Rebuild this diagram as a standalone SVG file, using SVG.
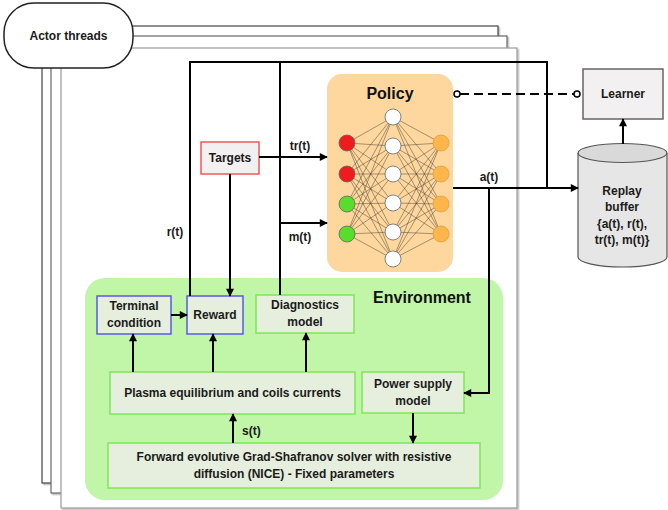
<svg xmlns="http://www.w3.org/2000/svg" width="668" height="510" viewBox="0 0 668 510">
<defs>
<marker id="ah" viewBox="0 0 10 10" refX="9" refY="5" markerWidth="9" markerHeight="8" markerUnits="userSpaceOnUse" orient="auto">
<path d="M0,0 L10,5 L0,10 z" fill="#000"/>
</marker>
<filter id="sh" x="-5%" y="-5%" width="110%" height="110%">
<feDropShadow dx="1.5" dy="1.5" stdDeviation="0.6" flood-color="#000" flood-opacity="0.25"/>
</filter>
</defs>
<style>
text{font-family:"Liberation Sans",Arial,sans-serif;font-weight:bold;font-size:12px;fill:#1a1a1a;text-anchor:middle}
.big{font-size:16px;fill:#111}
.lbl{text-anchor:start}
.env{fill:#e6eedd;stroke:#7be852;stroke-width:1.5}
.blue{fill:#e6eedd;stroke:#5a5ae6;stroke-width:1.5}
.conn{fill:none;stroke:#000;stroke-width:2}
.arr{fill:none;stroke:#000;stroke-width:2;marker-end:url(#ah)}
.nn{fill:none;stroke:#4a3c30;stroke-width:0.6;stroke-opacity:0.8}
</style>

<!-- stacked actor frames -->
<g id="frames">
<rect x="42" y="26" width="456" height="457" fill="#fff" stroke="#444" stroke-width="1.2" filter="url(#sh)"/>
<rect x="51" y="36" width="456" height="457" fill="#fff" stroke="#666" stroke-width="1.2" filter="url(#sh)"/>
<rect x="61" y="48" width="456" height="460" fill="#fff" stroke="#999" stroke-width="1.2" filter="url(#sh)"/>
</g>

<g id="actor-threads">
<rect x="4" y="3" width="129" height="65" rx="30" ry="30" fill="#fff" stroke="#222" stroke-width="1.5"/>
<text x="68.5" y="39.5">Actor threads</text>
</g>

<g id="environment">
<rect x="85" y="278" width="418" height="222" rx="20" ry="20" fill="#c1f5a8"/>
<text class="big" x="422" y="303">Environment</text>
</g>

<g id="policy">
<rect x="327" y="74" width="126" height="198" rx="15" ry="15" fill="#fdd79e"/>
<text class="big" x="390" y="99">Policy</text>
<path class="nn" d="M347 143L393 117M347 143L393 146M347 143L393 174M347 143L393 203M347 143L393 232M347 143L393 259M347 174L393 117M347 174L393 146M347 174L393 174M347 174L393 203M347 174L393 232M347 174L393 259M347 204L393 117M347 204L393 146M347 204L393 174M347 204L393 203M347 204L393 232M347 204L393 259M347 234L393 117M347 234L393 146M347 234L393 174M347 234L393 203M347 234L393 232M347 234L393 259"/>
<path class="nn" d="M393 117L441 143M393 117L441 174M393 117L441 204M393 117L441 234M393 146L441 143M393 146L441 174M393 146L441 204M393 146L441 234M393 174L441 143M393 174L441 174M393 174L441 204M393 174L441 234M393 203L441 143M393 203L441 174M393 203L441 204M393 203L441 234M393 232L441 143M393 232L441 174M393 232L441 204M393 232L441 234M393 259L441 143M393 259L441 174M393 259L441 204M393 259L441 234"/>
<g stroke="#666" stroke-width="0.8">
<circle cx="347" cy="143" r="8" fill="#ee1c1c"/>
<circle cx="347" cy="174" r="8" fill="#ee1c1c"/>
<circle cx="347" cy="204" r="8" fill="#58dd2c"/>
<circle cx="347" cy="234" r="8" fill="#58dd2c"/>
<circle cx="393" cy="117" r="8" fill="#fff"/>
<circle cx="393" cy="146" r="8" fill="#fff"/>
<circle cx="393" cy="174" r="8" fill="#fff"/>
<circle cx="393" cy="203" r="8" fill="#fff"/>
<circle cx="393" cy="232" r="8" fill="#fff"/>
<circle cx="393" cy="259" r="8" fill="#fff"/>
<circle cx="441" cy="143" r="8" fill="#fdb64c" stroke="#e0a040"/>
<circle cx="441" cy="174" r="8" fill="#fdb64c" stroke="#e0a040"/>
<circle cx="441" cy="204" r="8" fill="#fdb64c" stroke="#e0a040"/>
<circle cx="441" cy="234" r="8" fill="#fdb64c" stroke="#e0a040"/>
</g>
</g>

<g id="targets">
<rect x="201" y="142" width="58" height="32" fill="#f2f0f0" stroke="#f05a5a" stroke-width="1.5"/>
<text x="230" y="162">Targets</text>
</g>

<g id="learner">
<rect x="583" y="69" width="80" height="50" fill="#f2f0f0" stroke="#666" stroke-width="1.5"/>
<text x="623" y="98">Learner</text>
</g>

<g id="replay-buffer">
<path d="M578 153 L578 257 A44.5 10 0 0 0 667 257 L667 153" fill="#e6e6e6" stroke="#555" stroke-width="1.2"/>
<ellipse cx="622.5" cy="153" rx="44.5" ry="9.5" fill="#d9d9d9" stroke="#555" stroke-width="1.2"/>
<text x="622" y="195">Replay</text>
<text x="622" y="211">buffer</text>
<text x="622" y="228">{a(t), r(t),</text>
<text x="622" y="244">tr(t), m(t)}</text>
</g>

<g id="terminal-condition">
<rect class="blue" x="97" y="296" width="74" height="38"/>
<text x="134" y="310">Terminal</text>
<text x="134" y="327">condition</text>
</g>

<g id="reward">
<rect class="blue" x="187" y="296" width="56" height="38"/>
<text x="215" y="319">Reward</text>
</g>

<g id="diagnostics-model">
<rect class="env" x="256" y="295" width="98" height="38"/>
<text x="305" y="309">Diagnostics</text>
<text x="305" y="326">model</text>
</g>

<g id="plasma-equilibrium">
<rect class="env" x="110" y="372" width="245" height="42"/>
<text x="232.5" y="397">Plasma equilibrium and coils currents</text>
</g>

<g id="power-supply">
<rect class="env" x="362" y="372" width="102" height="41"/>
<text x="413" y="388">Power supply</text>
<text x="413" y="405">model</text>
</g>

<g id="forward-solver">
<rect class="env" x="108" y="443" width="372" height="45"/>
<text x="294" y="461">Forward evolutive Grad-Shafranov solver with resistive</text>
<text x="294" y="478">diffusion (NICE) - Fixed parameters</text>
</g>

<g id="connectors">
<!-- top feedback loop -->
<path class="conn" d="M190 296 L190 62 L547 62 L547 188"/>
<path class="conn" d="M280 295 L280 62"/>
<path class="arr" d="M259 157 L327 157"/>
<path class="arr" d="M280 223 L327 223"/>
<path class="arr" d="M230 174 L230 296"/>
<path class="arr" d="M453 188 L578 188"/>
<path class="arr" d="M489 188 L489 393 L464 393"/>
<path class="arr" d="M623 144 L623 119"/>
<!-- dashed policy-learner -->
<path d="M460 94 L574 94" fill="none" stroke="#000" stroke-width="2" stroke-dasharray="9 5"/>
<circle cx="457" cy="94" r="3" fill="#fff" stroke="#000" stroke-width="1.5"/>
<circle cx="577" cy="94" r="3" fill="#fff" stroke="#000" stroke-width="1.5"/>
<!-- environment internal -->
<path class="arr" d="M171 315 L187 315"/>
<path class="arr" d="M133 372 L133 334"/>
<path class="arr" d="M213 372 L213 334"/>
<path class="arr" d="M306 372 L306 333"/>
<path class="arr" d="M233 443 L233 414"/>
<path class="arr" d="M413 413 L413 443"/>
<!-- labels -->
<text x="300" y="150">tr(t)</text>
<text x="300" y="241">m(t)</text>
<text x="175" y="236">r(t)</text>
<text x="489" y="181">a(t)</text>
<text class="lbl" x="242" y="435">s(t)</text>
</g>
</svg>
